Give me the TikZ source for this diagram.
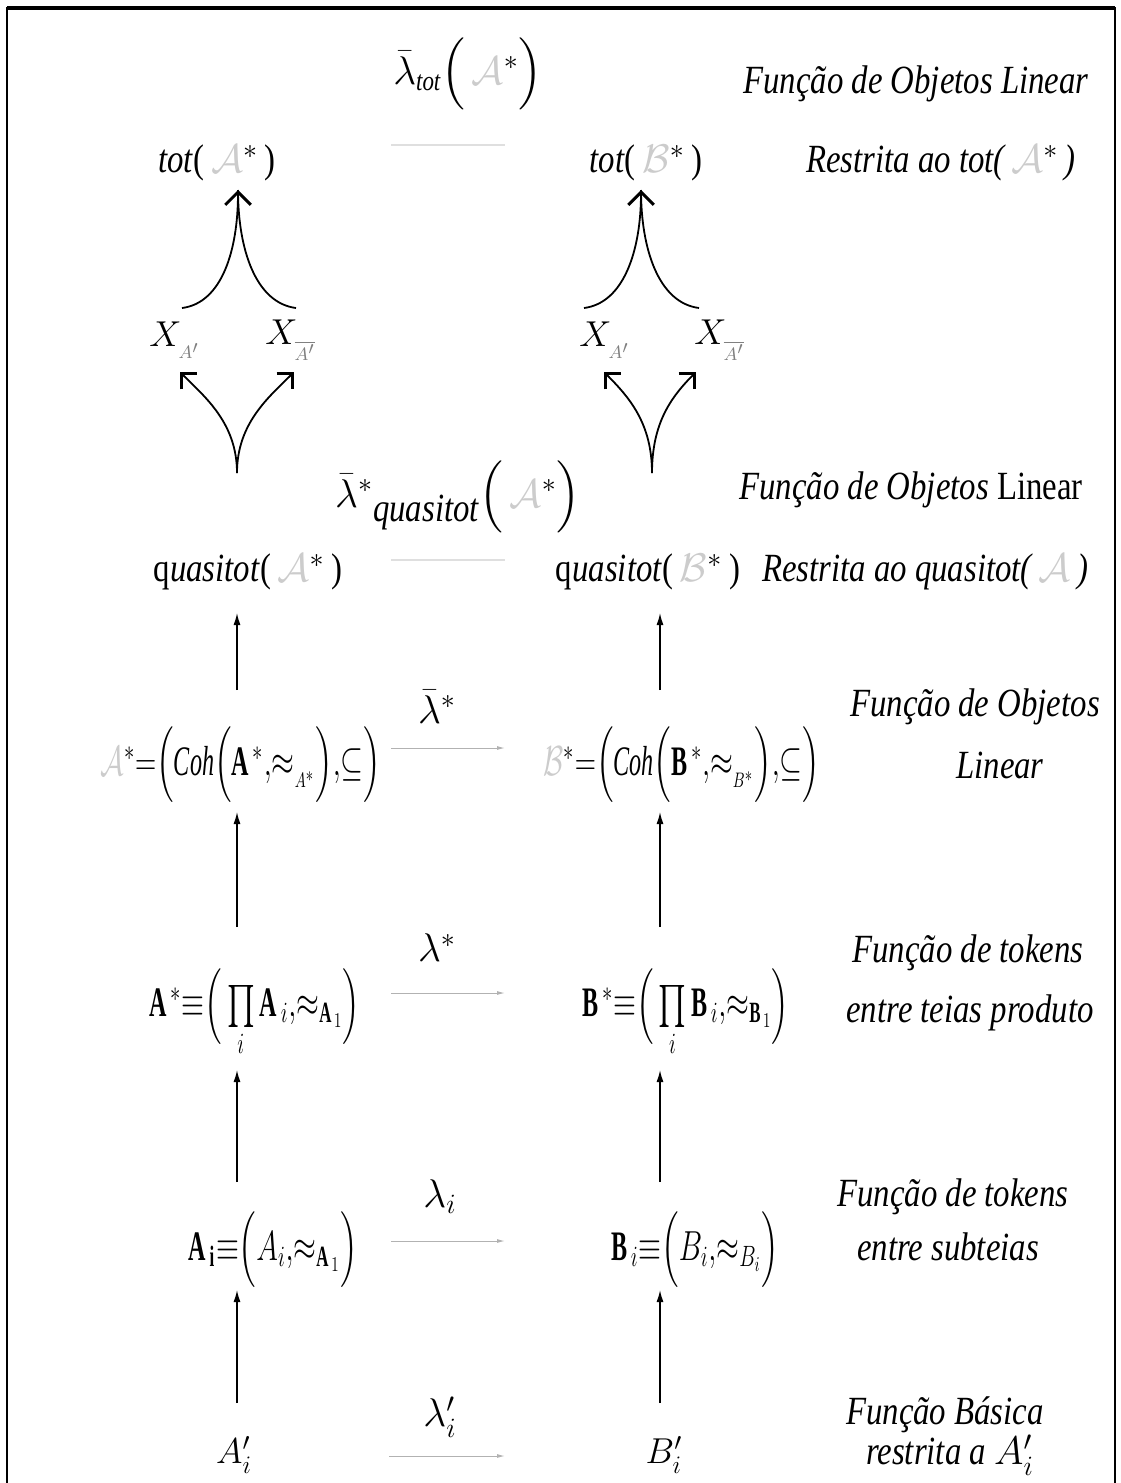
\RequirePackage{fix-cm}
\documentclass[tikz,border=0pt]{standalone}
\usepackage{amsmath,amssymb}
\usepackage{graphicx}
\usepackage{fontspec}
\setmainfont{Liberation Serif}[FakeStretch=0.82]
\usetikzlibrary{arrows.meta,calc}

\newcommand{\fA}{{\color{gray!40}\mathcal{A}}}
\newcommand{\fB}{{\color{gray!40}\mathcal{B}}}
\newcommand{\cond}[1]{\scalebox{0.7}[1]{$#1$}}

\begin{document}
\begin{tikzpicture}[x=0.5pt,y=-0.5pt]
    \tikzset{
        borderstyle/.style={line width=1.3pt, black},
        descstyle/.style={font=\fontsize{20}{24}\selectfont\itshape},
        objstyle/.style={font=\fontsize{21}{24}\selectfont},
        xstyle/.style={font=\fontsize{18}{22}\selectfont},
        wordstyle/.style={font=\fontsize{20}{24}\selectfont},
        mapstyle/.style={font=\fontsize{20}{24}\selectfont},
        liftstyle/.style={-{Latex[length=6pt,width=3.5pt]}, line width=0.7pt},
        sidestyle/.style={-{Latex[length=4pt,width=2pt]}, gray!60, line width=0.5pt},
        faintstyle/.style={gray!25, line width=0.8pt},
        cuspstyle/.style={line width=0.9pt},
        toptip/.style={-{Straight Barb[angle=90:9pt, line width=1.5pt]}},
        lowtip/.style={-{Straight Barb[angle=90:8pt, line width=1.3pt]}}
    }
    \useasboundingbox (0,0) rectangle (1120,1483);

    % --- CADRE ---
    \draw[borderstyle] (7,1483) -- (7,8) -- (1115,8) -- (1115,1483);
    \draw[line width=2pt] (7,8) -- (1115,8);

    % colonnes des flèches
    \coordinate (cl) at (237,0);
    \coordinate (cr) at (660,0);
    \coordinate (hl) at (391,0);
    \coordinate (hr) at (505,0);

    % --- NIVEAU tot ---
    \node[mapstyle] (lamtot) at (468,74) {$\bar{\lambda}_{\textit{tot}}\Big(\,\fA^{*}\Big)$};
    \node[descstyle] (d1) at (916,84) {Função de Objetos Linear};
    \node[wordstyle] (totA) at (217,163) {\textit{tot}(\,$\fA^{*}$\,)};
    \node[wordstyle] (totB) at (646,163) {\textit{tot}(\,$\fB^{*}$\,)};
    \node[descstyle] (d2) at (941,163) {Restrita ao tot(\,$\fA^{*}$\,)};
    \draw[faintstyle] ($(totA -| hl)+(0,-18)$) -- ($(totB -| hr)+(0,-18)$);

    % X_{A'} et X_{\bar A'}
    \node[xstyle] (XA) at (175,340) {$X_{_{\color{gray}A'}}$};
    \node[xstyle] (XAb) at (291,340) {$X_{_{\color{gray}\overline{A'}}}$};
    \node[xstyle] (XB) at (605,340) {$X_{_{\color{gray}A'}}$};
    \node[xstyle] (XBb) at (720,340) {$X_{_{\color{gray}\overline{A'}}}$};

    % cuspides supérieures
    \draw[cuspstyle, toptip] ($(XA)+(7,-32)$) .. controls +(40,-5) and +(0,60) .. ($(totA)+(21,27)$);
    \draw[cuspstyle] ($(XAb)+(5,-32)$) .. controls +(-40,-5) and +(0,60) .. ($(totA)+(21,27)$);
    \draw[cuspstyle, toptip] ($(XB)+(-21,-32)$) .. controls +(40,-5) and +(0,60) .. ($(totB)+(-5,27)$);
    \draw[cuspstyle] ($(XBb)+(-21,-32)$) .. controls +(-40,-5) and +(0,60) .. ($(totB)+(-5,27)$);

    % --- NIVEAU quasitot ---
    \node[mapstyle] (lamq) at (458,497) {$\bar{\lambda}^{*}\raisebox{-7pt}{\textit{quasitot}}\Big(\,\fA^{*}\Big)$};
    \node[descstyle] (d3) at (911,490) {Função de Objetos \upshape Linear};
    \node[wordstyle] (quA) at (248,572) {q\textit{uasitot}(\,$\fA^{*}$\,)};
    \node[wordstyle] (quB) at (648,572) {q\textit{uasitot}(\,$\fB^{*}$\,)};
    \node[descstyle] (d4) at (925,572) {Restrita ao quasitot(\,$\fA$\,)};
    \draw[faintstyle] ($(quA -| hl)+(0,-12)$) -- ($(quB -| hr)+(0,-12)$);

    % cuspides inférieures
    \draw[cuspstyle, lowtip] ($(quA -| cl)+(0,-99)$) .. controls +(0,-50) and +(25,25) .. ($(XA)+(5,32)$);
    \draw[cuspstyle, lowtip] ($(quA -| cl)+(0,-99)$) .. controls +(0,-50) and +(-25,25) .. ($(XAb)+(3,32)$);
    \draw[cuspstyle, lowtip] ($(quB -| cr)+(-8,-99)$) .. controls +(0,-50) and +(25,25) .. ($(XB)+(-1,32)$);
    \draw[cuspstyle, lowtip] ($(quB -| cr)+(-8,-99)$) .. controls +(0,-50) and +(-25,25) .. ($(XBb)+(-24,32)$);

    % --- NIVEAU Coh ---
    \node[mapstyle] (lamb) at (437,707) {$\bar{\lambda}^{*}$};
    \node[descstyle] (d5) at (975,707) {Função de Objetos};
    \node[descstyle] (d6) at (1000,765) {Linear};
    \node[objstyle] (cohA) at (241,765) {\cond{\fA^{*}{=}\Big(\textit{Coh}\Big(\mathbf{A}^{*}{,}{\approx_{_{A^{*}}}}\Big){,}{\subseteq}\Big)}};
    \node[objstyle] (cohB) at (682,765) {\cond{\fB^{*}{=}\Big(\textit{Coh}\Big(\mathbf{B}^{*}{,}{\approx_{_{B^{*}}}}\Big){,}{\subseteq}\Big)}};
    \draw[sidestyle] ($(cohA -| hl)+(0,-17)$) -- ($(cohB -| hr)+(0,-17)$);
    \draw[liftstyle] ($(cohA -| cl)+(0,-75)$) -- ($(quA -| cl)+(0,41)$);
    \draw[liftstyle] ($(cohB -| cr)+(0,-75)$) -- ($(quB -| cr)+(0,41)$);

    % --- NIVEAU produit ---
    \node[mapstyle] (lams) at (437,948) {$\lambda^{*}$};
    \node[descstyle] (d7) at (968,953) {Função de tokens};
    \node[descstyle] (d8) at (970,1013) {entre teias produto};
    \node[objstyle] (prA) at (255,1013) {\cond{\mathbf{A}^{*}{\equiv}\Big(\prod\limits_{i}\mathbf{A}_{i}{,}{\approx_{\mathbf{A}_{1}}}\Big)}};
    \node[objstyle] (prB) at (686,1013) {\cond{\mathbf{B}^{*}{\equiv}\Big(\prod\limits_{i}\mathbf{B}_{i}{,}{\approx_{\mathbf{B}_{1}}}\Big)}};
    \draw[sidestyle] ($(prA -| hl)+(0,-20)$) -- ($(prB -| hr)+(0,-20)$);
    \draw[liftstyle] ($(prA -| cl)+(0,-86)$) -- ($(cohA -| cl)+(0,47)$);
    \draw[liftstyle] ($(prB -| cr)+(0,-86)$) -- ($(cohB -| cr)+(0,47)$);

    % --- NIVEAU subteias ---
    \node[mapstyle] (lami) at (440,1197) {$\lambda_{i}$};
    \node[descstyle] (d9) at (953,1197) {Função de tokens};
    \node[descstyle] (d10) at (948,1247) {entre subteias};
    \node[objstyle] (Ai) at (273,1250) {\cond{\mathbf{A}_{\mathbf{i}}{\equiv}\Big(A_{i}{,}{\approx_{\mathbf{A}_{1}}}\Big)}};
    \node[objstyle] (Bi) at (695,1250) {\cond{\mathbf{B}_{i}{\equiv}\Big(B_{i}{,}{\approx_{B_{i}}}\Big)}};
    \draw[sidestyle] ($(Ai -| hl)+(0,-9)$) -- ($(Bi -| hr)+(0,-9)$);
    \draw[liftstyle] ($(Ai -| cl)+(0,-68)$) -- ($(prA -| cl)+(0,57)$);
    \draw[liftstyle] ($(Bi -| cr)+(0,-68)$) -- ($(prB -| cr)+(0,57)$);

    % --- NIVEAU de base ---
    \node[mapstyle] (lamp) at (440,1417) {$\lambda'_{i}$};
    \node[descstyle] (d11) at (945,1415) {Função Básica};
    \node[descstyle] (d12) at (950,1455) {restrita a \upshape$A'_{i}$};
    \node[xstyle] (Ap) at (234,1455) {$A'_{i}$};
    \node[xstyle] (Bp) at (664,1455) {$B'_{i}$};
    \draw[sidestyle] ($(Ap -| hl)+(-2,1)$) -- ($(Bp -| hr)+(0,1)$);
    \draw[liftstyle] ($(Ap -| cl)+(0,-52)$) -- ($(Ai -| cl)+(0,40)$);
    \draw[liftstyle] ($(Bp -| cr)+(0,-52)$) -- ($(Bi -| cr)+(0,40)$);

\end{tikzpicture}
\end{document}
